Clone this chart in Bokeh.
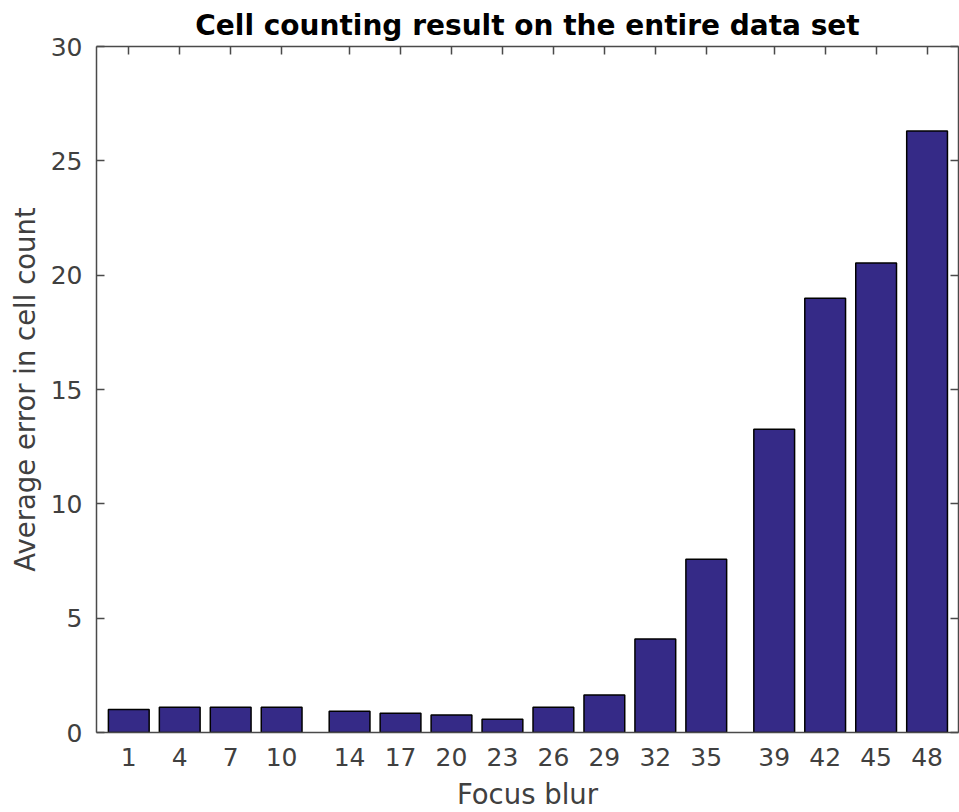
from bokeh.plotting import figure
from bokeh.models import FixedTicker, LinearAxis, Range1d, ColumnDataSource
from bokeh.embed import file_html
from bokeh.resources import INLINE

focus_blur = [1, 4, 7, 10, 14, 17, 20, 23, 26, 29, 32, 35, 39, 42, 45, 48]
avg_error = [1.01, 1.10, 1.10, 1.10, 0.93, 0.84, 0.76, 0.58, 1.10, 1.64,
             4.09, 7.58, 13.26, 18.99, 20.53, 26.30]
y_ticks = [0, 5, 10, 15, 20, 25, 30]

TEXT = "#404040"
LINE = "#4a4a4a"
FONT = "DejaVu Sans"

src = ColumnDataSource(dict(x=focus_blur, top=avg_error))

p = figure(width=959, height=812, output_backend="svg", toolbar_location=None,
           x_range=Range1d(-0.9, 49.85), y_range=Range1d(0, 30),
           min_border_left=96, min_border_right=1, min_border_top=46,
           min_border_bottom=79, background_fill_color="white",
           border_fill_color="white", outline_line_color=None)

p.vbar(x="x", top="top", bottom=0, width=2.4, source=src,
       fill_color="#352a87", line_color="black", line_width=1.5)

p.title.text = "Cell counting result on the entire data set"
p.title.text_font = FONT
p.title.text_font_style = "bold"
p.title.text_font_size = "28px"
p.title.text_color = "black"
p.title.align = "center"
p.title.standoff = 9

p.xgrid.visible = False
p.ygrid.visible = False

xa = p.xaxis[0]
xa.ticker = FixedTicker(ticks=focus_blur)
xa.axis_label = "Focus blur"
ya = p.yaxis[0]
ya.ticker = FixedTicker(ticks=y_ticks)
ya.axis_label = "Average error in cell count"

for ax in (xa, ya):
    ax.axis_line_color = LINE
    ax.axis_line_width = 1.5
    ax.major_tick_line_color = LINE
    ax.major_tick_line_width = 1.5
    ax.minor_tick_line_color = None
    ax.major_tick_out = 0
    ax.major_label_text_font = FONT
    ax.major_label_text_font_size = "25px"
    ax.major_label_text_color = TEXT
    ax.axis_label_text_font = FONT
    ax.axis_label_text_font_size = "27.5px"
    ax.axis_label_text_font_style = "normal"
    ax.axis_label_text_color = TEXT

xa.major_tick_in = 0
xa.major_label_standoff = 15
xa.axis_label_standoff = 9
ya.major_tick_in = 8
ya.major_label_standoff = 14
ya.axis_label_standoff = 7

top_ax = LinearAxis(ticker=FixedTicker(ticks=focus_blur))
right_ax = LinearAxis(ticker=FixedTicker(ticks=y_ticks))
for ax in (top_ax, right_ax):
    ax.axis_line_color = LINE
    ax.axis_line_width = 1.5
    ax.major_tick_line_color = LINE
    ax.major_tick_line_width = 1.5
    ax.minor_tick_line_color = None
    ax.major_tick_out = 0
    ax.major_tick_in = 8
    ax.major_label_text_font_size = "0px"
    ax.major_label_standoff = 0
    ax.major_label_text_alpha = 0
p.add_layout(top_ax, "above")
p.add_layout(right_ax, "right")

open("out.html", "w").write(file_html(p, INLINE))
